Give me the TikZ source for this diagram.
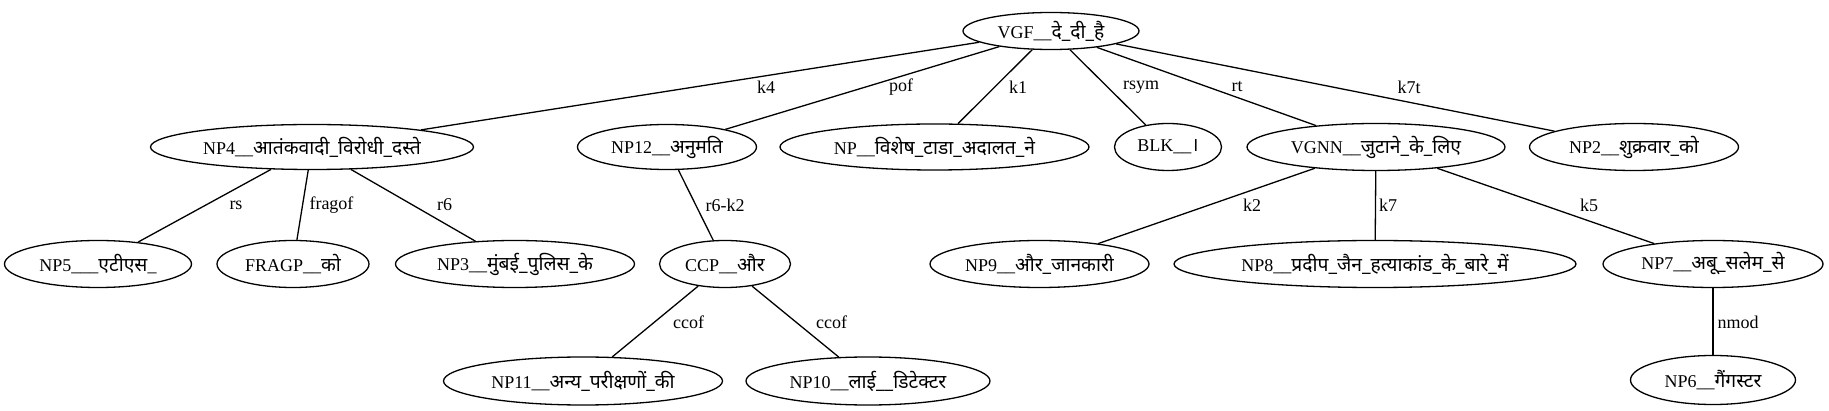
\documentclass[tikz,border=0pt]{standalone}
\usepackage{fontspec}
\setmainfont{Liberation Serif}
\newfontfamily\dev[Script=Devanagari,Scale=1.07]{Noto Sans}
\usetikzlibrary{shapes.geometric}
\begin{document}
\begin{tikzpicture}[x=1pt,y=-1pt,
  el/.style={draw, ellipse, line width=1.3pt, inner sep=0pt},
  ed/.style={line width=1.3pt},
  lb/.style={font=\rmfamily\fontsize{18}{20}\selectfont, inner sep=0pt}]
\useasboundingbox (0,0) rectangle (1829,411);
% row 1
\node[el, minimum width=176pt, minimum height=37pt, label={[lb]center:VGF\_\_{\dev दे\_दी\_है}}] (vgf) at (1051,31) {};
% row 2
\node[el, minimum width=323pt, minimum height=45pt, label={[lb]center:NP4\_\_{\dev आतंकवादी\_विरोधी\_दस्ते}}] (np4) at (312,147) {};
\node[el, minimum width=179pt, minimum height=45pt, label={[lb]center:NP12\_\_{\dev अनुमति}}] (np12) at (667,147) {};
\node[el, minimum width=309pt, minimum height=46pt, label={[lb]center:NP\_\_{\dev विशेष\_टाडा\_अदालत\_ने}}] (npv) at (934.5,147) {};
\node[el, minimum width=107pt, minimum height=47pt, label={[lb]center:BLK\_\_{\dev ।}}] (blk) at (1168,147) {};
\node[el, minimum width=258pt, minimum height=47pt, label={[lb]center:VGNN\_\_{\dev जुटाने\_के\_लिए}}] (vgnn) at (1376,147) {};
\node[el, minimum width=209pt, minimum height=47pt, label={[lb]center:NP2\_\_{\dev शुक्रवार\_को}}] (np2) at (1634,147) {};
% row 3
\node[el, minimum width=187pt, minimum height=47pt, label={[lb]center:NP5\_\_\_{\dev एटीएस}\_}] (np5) at (98,264) {};
\node[el, minimum width=152pt, minimum height=47pt, label={[lb]center:FRAGP\_\_{\dev को}}] (fragp) at (293,264) {};
\node[el, minimum width=239pt, minimum height=47pt, label={[lb]center:NP3\_\_{\dev मुंबई\_पुलिस\_के}}] (np3) at (515,264) {};
\node[el, minimum width=131pt, minimum height=47pt, label={[lb]center:CCP\_\_{\dev और}}] (ccp) at (725,264) {};
\node[el, minimum width=219pt, minimum height=47pt, label={[lb]center:NP9\_\_{\dev और\_जानकारी}}] (np9) at (1039.5,264) {};
\node[el, minimum width=402pt, minimum height=47pt, label={[lb]center:NP8\_\_{\dev प्रदीप\_जैन\_हत्याकांड\_के\_बारे\_में}}] (np8) at (1375,264) {};
\node[el, minimum width=220pt, minimum height=47pt, label={[lb]center:NP7\_\_{\dev अबू\_सलेम\_से}}] (np7) at (1713,264) {};
% row 4
\node[el, minimum width=279pt, minimum height=48pt, label={[lb]center:NP11\_\_{\dev अन्य\_परीक्षणों\_की}}] (np11) at (583,381) {};
\node[el, minimum width=244pt, minimum height=48pt, label={[lb]center:NP10\_\_{\dev लाई\_\_डिटेक्टर}}] (np10) at (868,381) {};
\node[el, minimum width=165pt, minimum height=49pt, label={[lb]center:NP6\_\_{\dev गैंगस्टर}}] (np6) at (1713,380) {};
% edges
\draw[ed] (vgf) -- (np4) node[lb, at={(766,87)}] {k4};
\draw[ed] (vgf) -- (np12) node[lb, at={(901,87)}] {pof};
\draw[ed] (vgf) -- (npv) node[lb, at={(1018,87)}] {k1};
\draw[ed] (vgf) -- (blk) node[lb, at={(1141,87)}] {rsym};
\draw[ed] (vgf) -- (vgnn) node[lb, at={(1237,87)}] {rt};
\draw[ed] (vgf) -- (np2) node[lb, at={(1409,87)}] {k7t};
\draw[ed] (np4) -- (np5) node[lb, at={(236,205)}] {rs};
\draw[ed] (np4) -- (fragp) node[lb, at={(331.5,205)}] {fragof};
\draw[ed] (np4) -- (np3) node[lb, at={(444.6,205)}] {r6};
\draw[ed] (np12) -- (ccp) node[lb, at={(725,205)}] {r6-k2};
\draw[ed] (vgnn) -- (np9) node[lb, at={(1252,205)}] {k2};
\draw[ed] (vgnn) -- (np8) node[lb, at={(1388,205)}] {k7};
\draw[ed] (vgnn) -- (np7) node[lb, at={(1589,205)}] {k5};
\draw[ed] (ccp) -- (np11) node[lb, at={(688.6,322)}] {ccof};
\draw[ed] (ccp) -- (np10) node[lb, at={(831.5,322)}] {ccof};
\draw[ed] (np7) -- (np6) node[lb, at={(1738,322)}] {nmod};
\end{tikzpicture}
\end{document}
